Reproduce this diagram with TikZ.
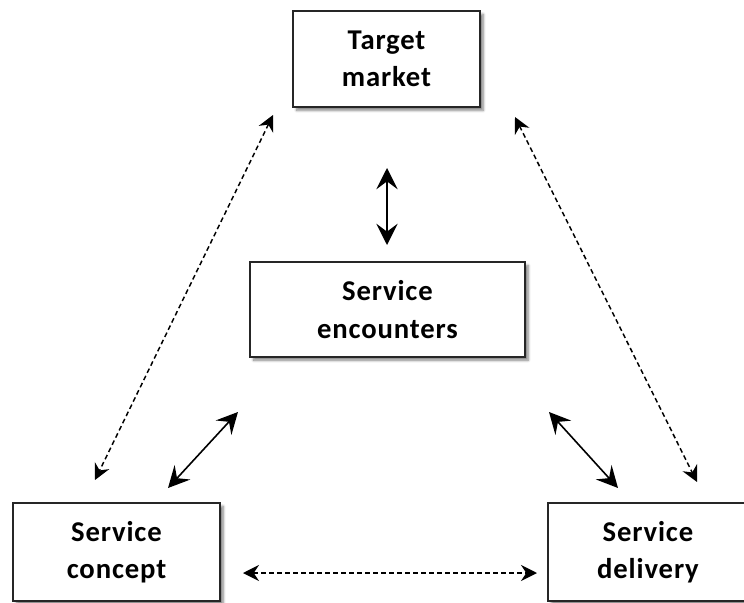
\documentclass[tikz,border=0pt]{standalone}
\usepackage{fontspec}
\setmainfont{Carlito}[LetterSpace=3]
\usetikzlibrary{arrows.meta,shadows.blur}
\tikzset{
  >=Stealth,
  box/.style = {rectangle, draw=black!85, line width=1.1pt, fill=white, align=center,
    font=\fontsize{21.5}{28}\selectfont\bfseries,
    blur shadow={shadow xshift=2.5pt, shadow yshift=-2.5pt, shadow blur steps=6, shadow opacity=50}},
  link/.style = {line width=1.2pt, {Stealth[length=16pt,width=16pt,inset=6pt]}-{Stealth[length=16pt,width=16pt,inset=6pt]}},
  maybe/.style = {line width=1.1pt, dash pattern=on 3.6pt off 2.4pt,
    {Stealth[length=12pt,width=12pt,inset=4pt]}-{Stealth[length=12pt,width=12pt,inset=4pt]}},
}
\begin{document}
\begin{tikzpicture}[x=0.75pt, y=-0.75pt]
  \useasboundingbox (0,0) rectangle (744,603);
  \node[box, minimum width=140pt, minimum height=72pt] (tm) at (386.5,59) {Target\\market};
  \node[box, minimum width=206pt, minimum height=71pt] (se) at (387.5,309.5) {Service\\encounters};
  \node[box, minimum width=155pt, minimum height=73.5pt] (sc) at (116.5,552) {Service\\concept};
  \node[box, minimum width=150pt, minimum height=73.5pt] (sd) at (648,552) {Service\\delivery};
  % loose ends of the arrows
  \coordinate (tm-s) at (387,168);
  \coordinate (se-n) at (387,245);
  \coordinate (se-sw) at (238,412);
  \coordinate (sc-ne) at (168,488);
  \coordinate (se-se) at (549,412);
  \coordinate (sd-nw) at (618,488);
  \coordinate (tm-sw) at (273,115);
  \coordinate (sc-n) at (95,480);
  \coordinate (tm-se) at (515,117);
  \coordinate (sd-n) at (697,482);
  \coordinate (sc-e) at (243,573);
  \coordinate (sd-w) at (537,573);
  \draw[link] (tm-s) -- (se-n);     % (tm,se)
  \draw[link] (se-sw) -- (sc-ne);   % (se,sc)
  \draw[link] (se-se) -- (sd-nw);   % (se,sd)
  \draw[maybe] (tm-sw) -- (sc-n);   % (tm,sc)
  \draw[maybe] (tm-se) -- (sd-n);   % (tm,sd)
  \draw[maybe] (sc-e) -- (sd-w);    % (sc,sd)
\end{tikzpicture}
\end{document}
